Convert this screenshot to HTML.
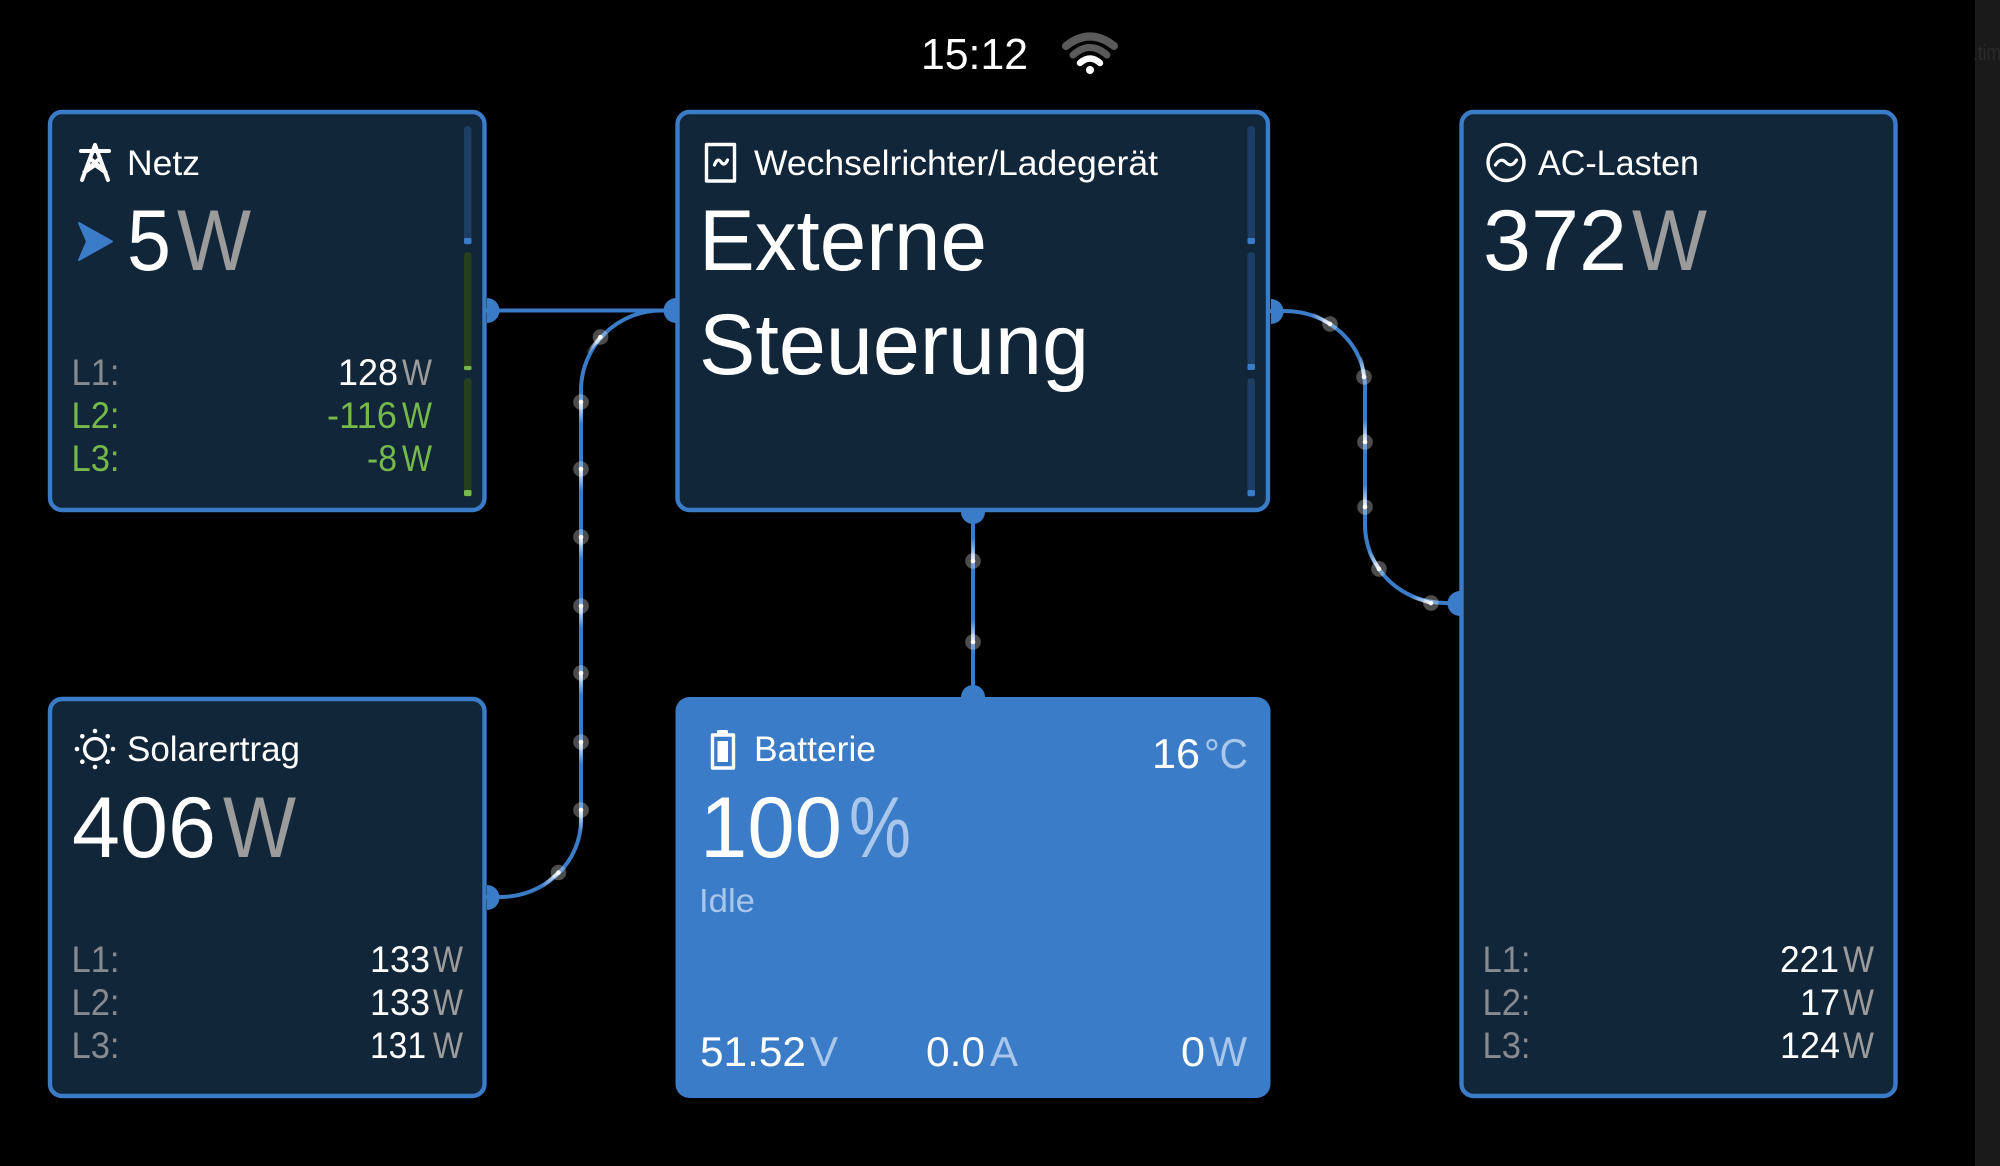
<!DOCTYPE html>
<html><head><meta charset="utf-8"><title>Dashboard</title>
<style>
html,body{margin:0;padding:0;background:#000;width:2000px;height:1166px;overflow:hidden}
svg{display:block}
text{font-family:"Liberation Sans",sans-serif;fill:#fff}
.t{font-size:35px}.h{font-size:86px}.s{font-size:37px}.b{font-size:42px}
.g{fill:#9b9b9b}.l{fill:#868b92}.n{fill:#76b94a}.p{fill:#a9c7ea}
.i{fill:none;stroke:#fff;stroke-width:3.4}
</style></head><body>
<svg width="2000" height="1166" viewBox="0 0 2000 1166" xmlns="http://www.w3.org/2000/svg">
<defs>
<linearGradient id="tg" x1="0" y1="0" x2="0" y2="1"><stop offset="0" stop-color="#fff" stop-opacity=".9"/><stop offset="1" stop-color="#fff" stop-opacity="0"/></linearGradient>
<g id="d"><circle r="7.8" fill="#fff" fill-opacity=".3"/><rect x="-1.8" y="0" width="3.6" height="22" fill="url(#tg)"/><circle r="2.3" fill="#fff"/></g>
</defs>
<rect width="2000" height="1166" fill="#000"/>
<rect x="1975" width="25" height="1166" fill="#1a1a1a"/>
<text x="1973" y="60" font-size="22" style="fill:#2a2a2a" textLength="28" lengthAdjust="spacingAndGlyphs">.tim</text>

<!-- status -->
<text x="921" y="69" font-size="44" textLength="107" lengthAdjust="spacingAndGlyphs">15:12</text>
<g fill="none" stroke-linecap="round">
<path d="M1066 46Q1090 27 1114 46" stroke="#5a5a5a" stroke-width="8"/>
<path d="M1073 55Q1090 40 1107 55" stroke="#5a5a5a" stroke-width="7"/>
<path d="M1080 63Q1090 54 1100 63" stroke="#fff" stroke-width="6.5"/>
</g>
<circle cx="1090" cy="70" r="4" fill="#fff"/>

<!-- connectors -->
<g fill="none" stroke="#3a7cc8" stroke-width="4">
<path d="M486 310.500H676"/>
<path d="M486 897H500A81 77 0 0 0 581 820V390A80 80 0 0 1 661 310.500H676"/>
<path d="M1270 311H1285A80 75 0 0 1 1365 386V525A80 78 0 0 0 1445 603H1460"/>
<path d="M973 510V697"/>
</g>

<!-- cards -->
<g stroke="#3a7cc8" stroke-width="4.4" fill="#12263a">
<rect x="50" y="112" width="434.500" height="398" rx="12"/>
<rect x="677.500" y="112" width="590.500" height="398" rx="12"/>
<rect x="50" y="699" width="434.500" height="397" rx="12"/>
<rect x="1461.500" y="112" width="434" height="984" rx="12"/>
</g>
<rect x="675.500" y="697" width="595" height="401" rx="14" fill="#3b7cc8"/>

<!-- port nodes -->
<g fill="#3a7cc8">
<path d="M487 298A12.500 12.500 0 0 1 487 323Z"/>
<path d="M676 298A12.500 12.500 0 0 0 676 323Z"/>
<path d="M487 885A12.500 12.500 0 0 1 487 910Z"/>
<path d="M1271 299A12.500 12.500 0 0 1 1271 324Z"/>
<path d="M1460 591A12.500 12.500 0 0 0 1460 616Z"/>
<path d="M961 512A12 12 0 0 0 985 512Z"/>
<path d="M961 697A12 12 0 0 1 985 697Z"/>
</g>

<!-- flow dots -->
<use href="#d" transform="translate(558.500,872.500) rotate(49)"/>
<use href="#d" transform="translate(581,810)"/>
<use href="#d" transform="translate(581,742)"/>
<use href="#d" transform="translate(581,673)"/>
<use href="#d" transform="translate(581,606)"/>
<use href="#d" transform="translate(581,537)"/>
<use href="#d" transform="translate(581,469)"/>
<use href="#d" transform="translate(581,402)"/>
<use href="#d" transform="translate(600.500,337) rotate(40)"/>
<use href="#d" transform="translate(1330,324) rotate(120)"/>
<use href="#d" transform="translate(1364,377) rotate(171)"/>
<use href="#d" transform="translate(1365,442) rotate(180)"/>
<use href="#d" transform="translate(1365,507) rotate(180)"/>
<use href="#d" transform="translate(1379,569) rotate(150)"/>
<use href="#d" transform="translate(1431,603) rotate(107)"/>
<use href="#d" transform="translate(973,561) rotate(180)"/>
<use href="#d" transform="translate(973,642) rotate(180)"/>

<!-- level bars -->
<g fill="#1e3d62">
<rect x="464" y="126" width="7.500" height="119" rx="3.500"/>
<rect x="1247.500" y="126" width="7.500" height="118" rx="3.500"/>
<rect x="1247.500" y="252" width="7.500" height="118" rx="3.500"/>
<rect x="1247.500" y="378" width="7.500" height="119" rx="3.500"/>
</g>
<g fill="#26401f">
<rect x="464" y="252" width="7.500" height="119" rx="3.500"/>
<rect x="464" y="378" width="7.500" height="119" rx="3.500"/>
</g>
<g fill="#3a7cc8">
<rect x="464" y="238" width="7.500" height="6" rx="1.500"/>
<rect x="1247.500" y="238" width="7.500" height="6" rx="1.500"/>
<rect x="1247.500" y="364" width="7.500" height="6" rx="1.500"/>
<rect x="1247.500" y="490" width="7.500" height="6" rx="1.500"/>
</g>
<rect x="464" y="366" width="7.500" height="4" rx="1.500" fill="#76b94a"/>
<rect x="464" y="490" width="7.500" height="6" rx="1.500" fill="#76b94a"/>

<!-- icons -->
<g class="i" stroke-linejoin="round" stroke-linecap="round">
<path d="M95 145L82 180M95 145L108 180M81 151H109M84.500 172L98 160M105.500 172L92 160M85 172L95 165L105 172" stroke-width="4"/>
<rect x="706.500" y="144.500" width="28" height="36.500"/>
<path d="M714.500 165Q717.500 157 721 162T727.500 160" stroke-width="3.200"/>
<circle cx="1506" cy="162.500" r="18"/>
<path d="M1495.500 165Q1500.500 157 1506 162.500T1516.500 160" stroke-width="3.200"/>
<circle cx="95" cy="749" r="10.400"/>
<rect x="712.500" y="735" width="21" height="33"/>
</g>
<path d="M79 223L112 241.500L79 260L87 241.500Z" fill="#3a7cc8" stroke="#3a7cc8" stroke-width="2" stroke-linejoin="round"/>
<g fill="#fff">
<circle cx="95" cy="731" r="2.300"/><circle cx="95" cy="767" r="2.300"/><circle cx="77" cy="749" r="2.300"/><circle cx="113" cy="749" r="2.300"/>
<circle cx="82.300" cy="736.300" r="2.300"/><circle cx="107.700" cy="736.300" r="2.300"/><circle cx="82.300" cy="761.700" r="2.300"/><circle cx="107.700" cy="761.700" r="2.300"/>
<rect x="717" y="730" width="11" height="5" rx="1.500"/>
<rect x="717.500" y="741" width="10.500" height="21"/>
</g>

<!-- Netz -->
<text class="t" x="127" y="175" textLength="73" lengthAdjust="spacingAndGlyphs">Netz</text>
<text class="h" x="127" y="270" textLength="44" lengthAdjust="spacingAndGlyphs">5</text>
<text class="h g" x="177" y="270" textLength="74" lengthAdjust="spacingAndGlyphs">W</text>
<text class="s l" x="71.500" y="385" textLength="48" lengthAdjust="spacingAndGlyphs">L1:</text>
<text class="s n" x="71.500" y="428" textLength="48" lengthAdjust="spacingAndGlyphs">L2:</text>
<text class="s n" x="71.500" y="471" textLength="48" lengthAdjust="spacingAndGlyphs">L3:</text>
<text class="s" x="338" y="385" textLength="60" lengthAdjust="spacingAndGlyphs">128</text>
<text class="s g" x="402" y="385" textLength="30" lengthAdjust="spacingAndGlyphs">W</text>
<text class="s n" x="327" y="428" textLength="70" lengthAdjust="spacingAndGlyphs">-116</text>
<text class="s n" x="402" y="428" textLength="30" lengthAdjust="spacingAndGlyphs">W</text>
<text class="s n" x="367" y="471" textLength="30" lengthAdjust="spacingAndGlyphs">-8</text>
<text class="s n" x="402" y="471" textLength="30" lengthAdjust="spacingAndGlyphs">W</text>

<!-- Inverter -->
<text class="t" x="754" y="175" textLength="404" lengthAdjust="spacingAndGlyphs">Wechselrichter/Ladegerät</text>
<text class="h" x="699" y="270" textLength="288" lengthAdjust="spacingAndGlyphs">Externe</text>
<text class="h" x="699" y="374" textLength="390" lengthAdjust="spacingAndGlyphs">Steuerung</text>

<!-- AC -->
<text class="t" x="1538" y="175" textLength="161" lengthAdjust="spacingAndGlyphs">AC-Lasten</text>
<text class="h" x="1483" y="270" textLength="144" lengthAdjust="spacingAndGlyphs">372</text>
<text class="h g" x="1632" y="270" textLength="75" lengthAdjust="spacingAndGlyphs">W</text>
<text class="s l" x="1482.500" y="972" textLength="48" lengthAdjust="spacingAndGlyphs">L1:</text>
<text class="s l" x="1482.500" y="1015" textLength="48" lengthAdjust="spacingAndGlyphs">L2:</text>
<text class="s l" x="1482.500" y="1058" textLength="48" lengthAdjust="spacingAndGlyphs">L3:</text>
<text class="s" x="1780" y="972" textLength="59" lengthAdjust="spacingAndGlyphs">221</text>
<text class="s g" x="1843" y="972" textLength="31" lengthAdjust="spacingAndGlyphs">W</text>
<text class="s" x="1800" y="1015" textLength="40" lengthAdjust="spacingAndGlyphs">17</text>
<text class="s g" x="1843" y="1015" textLength="31" lengthAdjust="spacingAndGlyphs">W</text>
<text class="s" x="1780" y="1058" textLength="60" lengthAdjust="spacingAndGlyphs">124</text>
<text class="s g" x="1843" y="1058" textLength="31" lengthAdjust="spacingAndGlyphs">W</text>

<!-- Solar -->
<text class="t" x="127" y="761" textLength="173" lengthAdjust="spacingAndGlyphs">Solarertrag</text>
<text class="h" x="72" y="857" textLength="144" lengthAdjust="spacingAndGlyphs">406</text>
<text class="h g" x="223" y="857" textLength="73" lengthAdjust="spacingAndGlyphs">W</text>
<text class="s l" x="71.500" y="972" textLength="48" lengthAdjust="spacingAndGlyphs">L1:</text>
<text class="s l" x="71.500" y="1015" textLength="48" lengthAdjust="spacingAndGlyphs">L2:</text>
<text class="s l" x="71.500" y="1058" textLength="48" lengthAdjust="spacingAndGlyphs">L3:</text>
<text class="s" x="370" y="972" textLength="60" lengthAdjust="spacingAndGlyphs">133</text>
<text class="s g" x="433" y="972" textLength="30" lengthAdjust="spacingAndGlyphs">W</text>
<text class="s" x="370" y="1015" textLength="60" lengthAdjust="spacingAndGlyphs">133</text>
<text class="s g" x="433" y="1015" textLength="30" lengthAdjust="spacingAndGlyphs">W</text>
<text class="s" x="370" y="1058" textLength="56" lengthAdjust="spacingAndGlyphs">131</text>
<text class="s g" x="433" y="1058" textLength="30" lengthAdjust="spacingAndGlyphs">W</text>

<!-- Battery -->
<text class="t" x="754" y="761" textLength="122" lengthAdjust="spacingAndGlyphs">Batterie</text>
<text class="b" x="1152" y="768" textLength="48" lengthAdjust="spacingAndGlyphs">16</text>
<text class="b p" x="1204" y="768" textLength="44" lengthAdjust="spacingAndGlyphs">°C</text>
<text class="h" x="700" y="857" textLength="142" lengthAdjust="spacingAndGlyphs">100</text>
<text class="h p" x="849" y="857" textLength="62" lengthAdjust="spacingAndGlyphs">%</text>
<text class="p" x="699" y="912" font-size="33" textLength="56" lengthAdjust="spacingAndGlyphs">Idle</text>
<text class="b" x="700" y="1066" textLength="106" lengthAdjust="spacingAndGlyphs">51.52</text>
<text class="b p" x="810" y="1066" textLength="28" lengthAdjust="spacingAndGlyphs">V</text>
<text class="b" x="926" y="1066" textLength="59" lengthAdjust="spacingAndGlyphs">0.0</text>
<text class="b p" x="990" y="1066" textLength="28" lengthAdjust="spacingAndGlyphs">A</text>
<text class="b" x="1181" y="1066" textLength="24" lengthAdjust="spacingAndGlyphs">0</text>
<text class="b p" x="1209" y="1066" textLength="38" lengthAdjust="spacingAndGlyphs">W</text>
</svg>
</body></html>
